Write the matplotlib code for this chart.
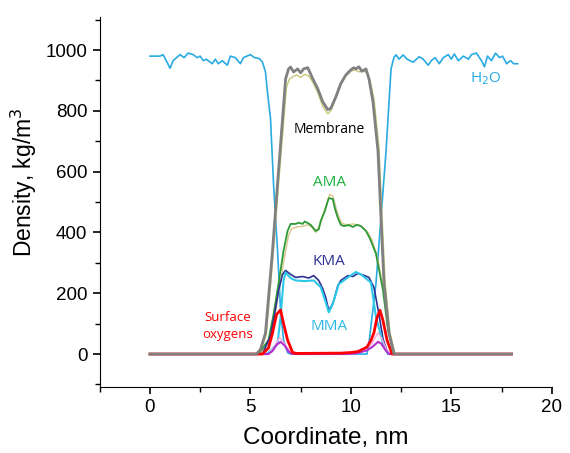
import matplotlib
matplotlib.use('Agg')
import matplotlib.pyplot as plt

# density profiles (x in nm, density in kg/m3)
water_x = [0.0, 0.5, 0.65, 0.85, 1.0, 1.15, 1.5, 1.7, 1.9, 2.15, 2.35, 2.5, 2.65, 2.8,
           3.1, 3.25, 3.4, 3.6, 3.85, 4.0, 4.25, 4.5, 4.65, 5.0, 5.2, 5.45, 5.6, 5.75,
           5.85, 6.0, 6.15, 6.35, 6.5, 6.65, 6.85, 7.0,
           10.8, 10.9, 11.25, 11.5, 11.75, 11.9, 12.0, 12.15, 12.25, 12.4, 12.6, 12.8,
           13.1, 13.4, 13.6, 13.85, 14.0, 14.2, 14.4, 14.6, 14.85, 15.0, 15.15, 15.35,
           15.6, 15.85, 16.0, 16.25, 16.5, 16.65, 16.8, 17.0, 17.2, 17.4, 17.55, 17.75,
           17.95, 18.1, 18.3]
water_y = [980, 980, 985, 960, 940, 965, 985, 975, 990, 985, 975, 980, 965, 970,
           955, 970, 955, 965, 950, 980, 975, 955, 975, 985, 975, 972, 960, 928,
           860, 775, 560, 340, 144, 46, 5, 0,
           0, 36, 232, 448, 667, 830, 938, 977, 984, 970, 984, 970,
           960, 978, 970, 950, 965, 975, 955, 975, 985, 970, 987, 965,
           980, 970, 985, 990, 965, 945, 980, 965, 990, 975, 980, 955,
           965, 955, 955]

memb_x = [0.0, 5.3, 5.5, 5.75, 6.1, 6.35, 6.6, 6.75, 6.9, 7.0, 7.15, 7.35, 7.5, 7.65,
          7.85, 7.95, 8.1, 8.35, 8.6, 8.85, 9.0, 9.25, 9.5, 9.75, 10.0, 10.15, 10.25,
          10.4, 10.55, 10.75, 10.9, 11.1, 11.35, 11.5, 11.65, 11.9, 12.15, 18.0]
memb_y = [0, 0, 15, 69, 340, 560, 775, 905, 938, 944, 928, 938, 925, 938,
          942, 928, 906, 873, 830, 804, 808, 846, 890, 918, 935, 942, 938,
          945, 930, 938, 906, 830, 667, 448, 232, 69, 0, 0]

memb2_x = [0.0, 5.35, 5.55, 5.8, 6.15, 6.4, 6.65, 6.8, 6.95, 7.1, 7.3, 7.5, 7.7, 7.9,
           8.1, 8.35, 8.6, 8.85, 9.0, 9.25, 9.5, 9.75, 10.0, 10.2, 10.4, 10.6, 10.8,
           10.95, 11.15, 11.4, 11.55, 11.7, 11.95, 12.2, 18.0]
memb2_y = [0, 0, 15, 69, 340, 560, 760, 880, 905, 912, 918, 910, 920, 915,
           895, 860, 815, 790, 800, 840, 885, 915, 930, 935, 928, 932, 925,
           900, 840, 680, 460, 240, 69, 0, 0]

ama_x = [0.0, 5.4, 5.9, 6.15, 6.4, 6.65, 6.85, 7.0, 7.25, 7.4, 7.6, 7.7, 7.85, 8.0,
         8.25, 8.4, 8.5, 8.7, 8.9, 9.1, 9.2, 9.35, 9.5, 9.65, 9.9, 10.1, 10.3, 10.5,
         10.75, 10.95, 11.25, 11.6, 11.85, 12.15, 18.0]
ama_y = [0, 0, 46, 130, 232, 340, 405, 428, 428, 432, 428, 436, 431, 425,
         405, 410, 438, 470, 513, 510, 480, 448, 425, 421, 424, 418, 425, 421,
         405, 380, 330, 209, 78, 0, 0]

ama2_x = [0.0, 5.45, 5.95, 6.2, 6.45, 6.7, 6.9, 7.05, 7.3, 7.6, 7.85, 8.05, 8.25,
          8.5, 8.7, 8.95, 9.1, 9.35, 9.55, 9.8, 10.1, 10.4, 10.6, 10.85, 11.05,
          11.3, 11.65, 11.9, 12.2, 18.0]
ama2_y = [0, 0, 40, 120, 220, 320, 390, 412, 418, 420, 425, 418, 400,
          430, 475, 525, 520, 460, 430, 425, 428, 424, 415, 400, 375,
          325, 205, 75, 0, 0]

kma_x = [0.0, 5.6, 6.0, 6.2, 6.4, 6.6, 6.75, 7.0, 7.25, 7.6, 7.9, 8.15, 8.4, 8.6,
         8.75, 8.9, 9.05, 9.15, 9.35, 9.5, 9.85, 10.1, 10.35, 10.6, 10.9, 11.15,
         11.4, 11.6, 11.85, 18.0]
kma_y = [0, 0, 60, 130, 209, 262, 275, 262, 252, 255, 250, 258, 242, 215,
         186, 144, 160, 176, 225, 242, 258, 255, 265, 260, 252, 219,
         130, 50, 0, 0]

mma_x = [0.0, 5.8, 6.0, 6.35, 6.5, 6.65, 6.75, 7.0, 7.25, 7.7, 8.15, 8.5, 8.75,
         8.9, 9.1, 9.4, 9.85, 10.25, 10.5, 11.0, 11.25, 11.6, 11.85, 18.0]
mma_y = [0, 0, 10, 36, 121, 242, 268, 250, 242, 240, 242, 220, 170,
         137, 165, 230, 252, 270, 262, 235, 121, 36, 0, 0]

oxy_x = [0.0, 5.6, 5.9, 6.1, 6.3, 6.5, 6.65, 6.85, 7.1, 7.3, 9.5, 10.0, 10.35,
         10.8, 11.0, 11.15, 11.3, 11.45, 11.6, 11.8, 12.05, 18.0]
oxy_y = [0, 0, 20, 69, 130, 145, 100, 46, 5, 2, 3, 5, 8,
         23, 45, 70, 120, 144, 110, 46, 0, 0]

pink_x = [0.0, 5.9, 6.2, 6.45, 6.7, 7.0, 7.2, 10.0, 10.5, 11.0, 11.35, 11.55,
          11.8, 12.0, 18.0]
pink_y = [0, 0, 25, 55, 35, 5, 0, 0, 8, 30, 70, 50, 10, 0, 0]

mag_x = [0.0, 5.9, 6.1, 6.3, 6.5, 6.7, 6.9, 7.1, 9.8, 10.3, 10.8, 11.1, 11.35,
         11.5, 11.7, 11.9, 18.0]
mag_y = [0, 0, 10, 30, 40, 28, 8, 0, 0, 3, 12, 25, 40, 35, 15, 0, 0]

fig = plt.figure(figsize=(5.7, 4.53), dpi=100)
ax = fig.add_axes([0.175, 0.146, 0.793, 0.816])

ax.plot(water_x, water_y, color='#29ABE2', lw=1.2)
ax.plot(memb2_x, memb2_y, color='#C8C878', lw=1.0)
ax.plot(ama2_x, ama2_y, color='#D9C48F', lw=1.0)
ax.plot(ama_x, ama_y, color='#2E9A36', lw=1.3)
ax.plot(kma_x, kma_y, color='#2E3192', lw=1.2)
ax.plot(mma_x, mma_y, color='#2BC8E8', lw=1.5)
ax.plot(pink_x, pink_y, color='#F5A8D8', lw=1.0)
ax.plot(mag_x, mag_y, color='#B32FD0', lw=1.5)
ax.plot(oxy_x, oxy_y, color='#FF0000', lw=2.0)
ax.plot(memb_x, memb_y, color='#808080', lw=2.0)

lab = dict(family='Open Sans', ha='center', va='center')
ax.text(16.7, 905, r'H$_2$O', color='#29ABE2', fontsize=11, **lab)
ax.text(8.9, 738, 'Membrane', color='black', fontsize=10, **lab)
ax.text(8.95, 565, 'AMA', color='#1DB040', fontsize=11, **lab)
ax.text(8.9, 304, 'KMA', color='#2E3192', fontsize=11, **lab)
ax.text(8.9, 92, 'MMA', color='#2BB8E8', fontsize=11, **lab)
ax.text(3.85, 92, 'Surface\noxygens', color='#FF0000', fontsize=9.5,
        linespacing=1.45, **lab)

ax.set_xlim(-2.5, 20)
ax.set_ylim(-108, 1108)
ax.set_xticks([0, 5, 10, 15, 20])
ax.set_xticks([-2.5, 2.5, 7.5, 12.5, 17.5], minor=True)
ax.set_yticks([0, 200, 400, 600, 800, 1000])
ax.set_yticks([-100, 100, 300, 500, 700, 900, 1100], minor=True)
ax.spines['top'].set_visible(False)
ax.spines['right'].set_visible(False)
ax.tick_params(axis='both', which='major', direction='out', length=5, width=1.2,
               labelsize=13.5, pad=4)
ax.tick_params(axis='both', which='minor', direction='out', length=3.5, width=1.0)
for t in ax.get_xticklabels() + ax.get_yticklabels():
    t.set_family('Liberation Sans')
ax.set_xlabel('Coordinate, nm', fontsize=17.5, family='Liberation Sans', labelpad=8)
ax.set_ylabel(r'Density, kg/m$^3$', fontsize=16.5, family='Liberation Sans')
ax.yaxis.set_label_coords(-0.135, 0.553)

fig.savefig('out.png', dpi=100)
